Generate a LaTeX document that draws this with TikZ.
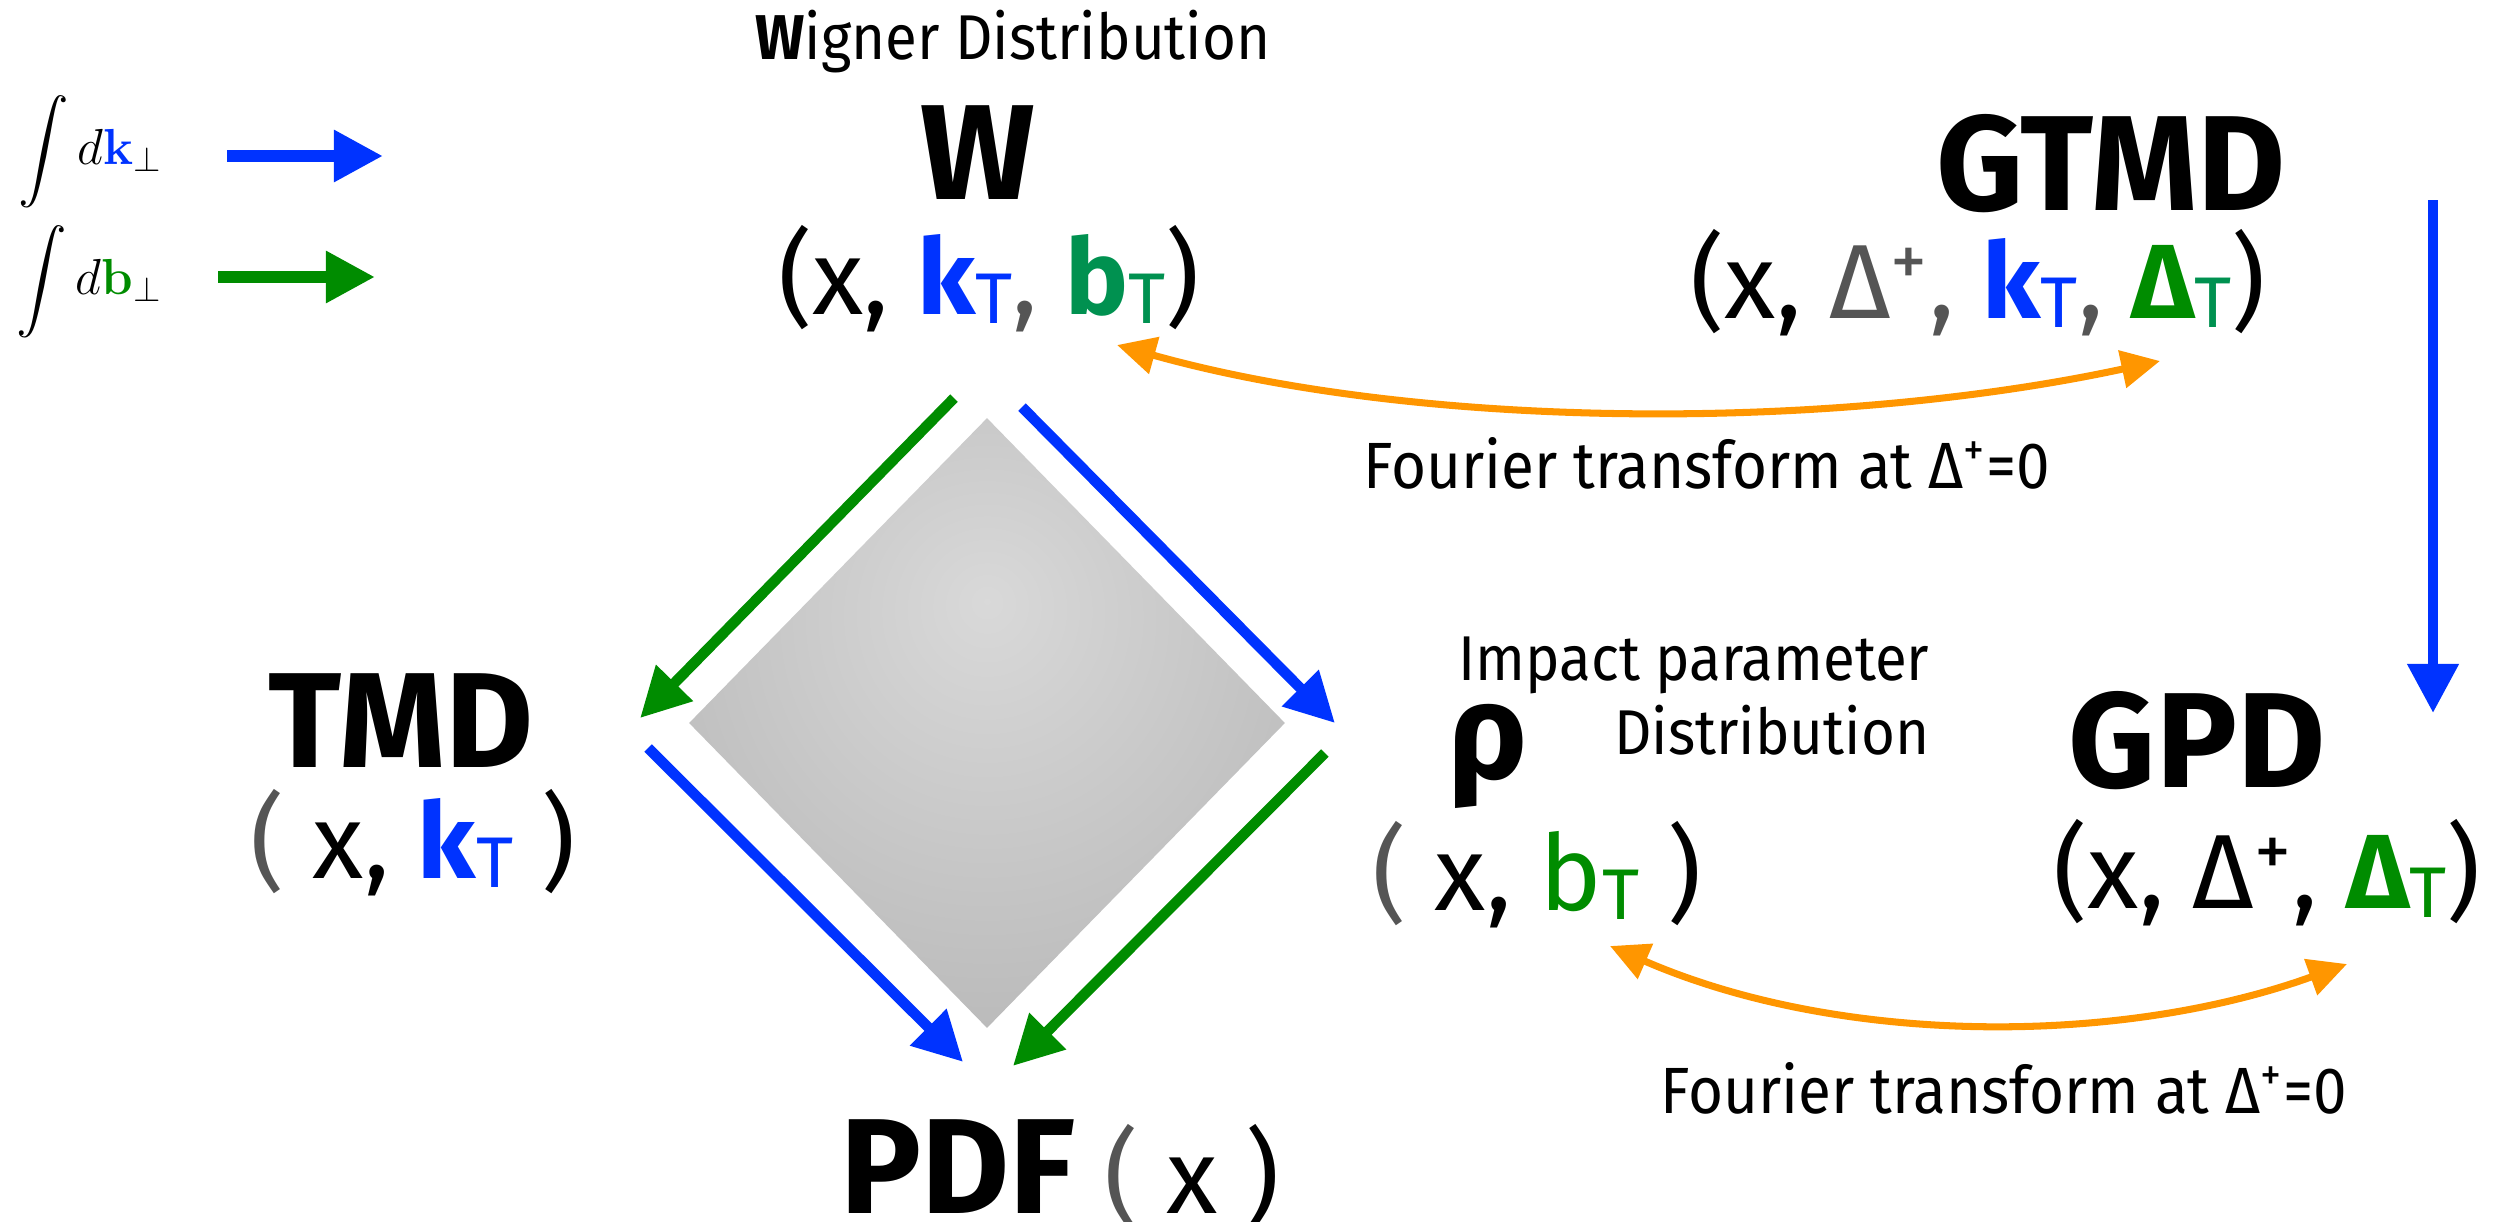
\documentclass[tikz,border=0pt]{standalone}
\usepackage{amsmath}
\usepackage[no-math]{fontspec}
\setmainfont{Fira Sans}
\newfontfamily\thinfont[FakeStretch=0.92]{Fira Sans}
\usetikzlibrary{arrows.meta,shapes.geometric,calc}

% soft grey for the square
\pgfdeclareradialshading{diashade}{\pgfpoint{0bp}{10bp}}{color(0bp)=(black!15); color(60bp)=(black!37); color(100bp)=(black!40)}

% small lowered T
\newcommand{\subT}[1]{\raisebox{-0.09em}{\scalebox{0.68}{\mdseries\color{#1}T}}}

\begin{document}
\begin{tikzpicture}[x=0.01cm,y=-0.01cm,
    bigname/.style={font=\fontsize{38.5}{44}\selectfont\bfseries, inner sep=0pt, anchor=base},
    argline/.style={font=\fontsize{30}{34}\selectfont, inner sep=0pt, anchor=base},
    thinlabel/.style={font=\thinfont\fontsize{18}{22}\selectfont, inner sep=0pt, anchor=base},
    kflow/.style={draw=kblue, line width=3pt, >={Triangle[length=14pt,width=14pt]}, ->},
    bflow/.style={kflow, draw=bgreen},
    ftarrow/.style={draw=ftorange, line width=2pt, >={Triangle[length=11pt,width=10.5pt]}, <->}]
    % Define colors
    \definecolor{kblue}{RGB}{0,51,255}    % momentum
    \definecolor{bgreen}{RGB}{0,140,0}    % impact parameter
    \definecolor{tgreen}{RGB}{0,145,80}   % teal subscripts
    \definecolor{ftorange}{RGB}{255,150,0}
    \definecolor{argray}{RGB}{85,85,85}

    \useasboundingbox (0,0) rectangle (2498,1221);

    % legend
    \node[anchor=base west, inner sep=0pt, font=\fontsize{14.4}{17}\selectfont] (legk) at (18,164) {$\displaystyle\int d{\color{kblue}\mathbf{k}}_\perp$};
    \node[anchor=base west, inner sep=0pt, font=\fontsize{14.4}{17}\selectfont] (legb) at (16,294) {$\displaystyle\int d{\color{bgreen}\mathbf{b}}_\perp$};
    \coordinate (lk1) at (227,156);
    \coordinate (lk2) at (383,156);
    \coordinate (lb1) at (218,277);
    \coordinate (lb2) at (375,277);
    \draw[kflow, line width=3.4pt] (lk1) -- (lk2);
    \draw[bflow, line width=3.4pt] (lb1) -- (lb2);

    % Wigner and GTMD
    \node[thinlabel] (wtitle) at (1013,59) {{\bfseries W}igner Distribution};
    \node[bigname] (wig) at (978,199) {W};
    \node[argline] (wargs) at (989,314) {(x, {\bfseries\color{kblue}k}\subT{kblue}{\color{argray},} {\bfseries\color{tgreen}b}\subT{tgreen})};
    \node[bigname] (gtmd) at (2111,210) {GTMD};
    \node[argline] (gargs) at (1978,318) {(x, {\color{argray}Δ\textsuperscript{+},} {\bfseries\color{kblue}k}\subT{kblue}{\color{argray},} {\bfseries\color{bgreen}Δ}\subT{tgreen})};
    \node[thinlabel, font=\thinfont\fontsize{18.6}{22}\selectfont] (ftop) at (1707,488) {Fourier transform at Δ\textsuperscript{+}=0};

    % the square in the middle
    \node[diamond, minimum width=5.96cm, minimum height=6.1cm, inner sep=0pt, shade, shading=diashade] (dia) at (987,723) {};

    % TMD, rho, GPD
    \node[bigname] (tmd) at (401,767) {TMD};
    \node[argline] (targs) at (413,878) {{\color{argray}(} x, {\bfseries\color{kblue}k}\subT{kblue} )};
    \node[bigname] (rho) at (1488,778) {ρ};
    \node[thinlabel, anchor=base east] (impA) at (1930,680) {Impact parameter};
    \node[thinlabel, anchor=base east] (impB) at (1930,754) {Distribution};
    \node[argline] (rargs) at (1537,910) {{\color{argray}(} x, {\color{bgreen}b}\subT{bgreen} )};
    \node[bigname] (gpd) at (2197,787) {GPD};
    \node[argline] (pargs) at (2267,908) {(x, Δ\textsuperscript{+}, {\bfseries\color{bgreen}Δ}\subT{bgreen})};
    \node[thinlabel, font=\thinfont\fontsize{18.6}{22}\selectfont] (fbot) at (2004,1113) {Fourier transform at Δ\textsuperscript{+}=0};

    % PDF
    \node[bigname, anchor=base east] (pdf) at (1076,1213) {PDF};
    \node[argline, anchor=base west] (pdfargs) at (1104,1213) {{\color{argray}(} x )};

    % arrows round the square
    \draw[bflow] ($(dia.north)+(-33,-19)$) -- ($(dia.west)+(-48,-5)$);
    \draw[kflow] ($(dia.north)+(35,-10)$) -- ($(dia.east)+(49,0)$);
    \draw[kflow] ($(dia.west)+(-40,25)$) -- ($(dia.south)+(-24,33)$);
    \draw[bflow] ($(dia.east)+(39,30)$) -- ($(dia.south)+(26,37)$);

    % GTMD down to GPD
    \coordinate (gtop) at (2433,200);
    \coordinate (gbot) at (2433,713);
    \draw[kflow] (gtop) -- (gbot);

    % Fourier transforms
    \coordinate (wft) at (1117,345);
    \coordinate (gft) at (2160,361);
    \draw[ftarrow] (wft) .. controls (1420,430) and (1830,432) .. (gft);
    \coordinate (rft) at (1610,946);
    \coordinate (pft) at (2347,964);
    \draw[ftarrow] (rft) .. controls (1840,1046) and (2120,1046) .. (pft);
\end{tikzpicture}
\end{document}
